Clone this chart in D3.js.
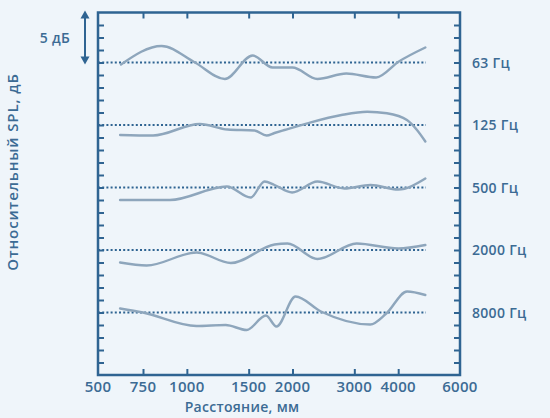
<!DOCTYPE html>
<html>
<head>
<meta charset="utf-8">
<script src="https://cdn.jsdelivr.net/npm/d3@7"></script>
<style>
  html, body { margin: 0; padding: 0; background: #eff5fa; }
  svg { display: block; }
  text { font-family: "Open Sans", sans-serif; font-weight: 600; fill: #3c6b94; }
</style>
</head>
<body>
<div id="chart"></div>
<script>
// distance tick labels (mm)
const xLabels = [500, 750, 1000, 1500, 2000, 3000, 4000, 6000];
const xTicks = [750, 1000, 1500, 2000, 3000, 4000];

// frequency bands and their baseline offset (dB)
const bands = ["63 Гц", "125 Гц", "500 Гц", "2000 Гц", "8000 Гц"];
const baselines = [0, -6.25, -12.5, -18.75, -25];

// each curve: [distance mm, dB relative to its own baseline]
const curve63 = [[615, -0.2], [847, 1.65], [1054, 0], [1283, -1.65], [1540, 0.7], [1754, -0.5], [1999, -0.5], [2354, -1.65], [2846, -1.1], [3461, -1.5], [4018, 0.1], [4780, 1.5]];
const curve125 = [[610, -1.0], [801, -1.05], [1088, 0.1], [1307, -0.45], [1559, -0.55], [1687, -1.05], [1777, -0.8], [1897, -0.5], [2205, 0.17], [2756, 1.0], [3264, 1.33], [3716, 1.17], [4237, 0.5], [4525, -0.5], [4780, -1.65]];
const curve500 = [[610, -1.25], [895, -1.25], [1300, 0.1], [1520, -1.0], [1665, 0.6], [1777, 0.25], [1995, -0.5], [2354, 0.6], [2810, -0.1], [3336, 0.25], [4000, -0.2], [4780, 0.9]];
const curve2000 = [[610, -1.25], [768, -1.55], [1066, -0.25], [1334, -1.3], [1777, 0.55], [1935, 0.65], [2354, -0.9], [3046, 0.65], [4000, 0.15], [4780, 0.5]];
const curve8000 = [[610, 0.4], [750, 0], [1065, -1.35], [1290, -1.25], [1480, -1.75], [1680, -0.3], [1800, -1.4], [2040, 1.6], [2410, 0.1], [3330, -1.2], [3700, -0.1], [4240, 2.1], [4780, 1.75]];
const curves = [curve63, curve125, curve500, curve2000, curve8000];

const width = 550, height = 418;
const frame = { left: 98, right: 460, top: 12.5, bottom: 375 };
const frameColor = "#2f6492";
const curveColor = "#8ea6bc";

const svg = d3.select("#chart").append("svg")
  .attr("width", width)
  .attr("height", height);

// log distance scale, the first segment is squeezed so 500 sits on the corner
const x = d3.scaleLog()
  .domain([500, 750, 6000])
  .range([frame.left, 143, frame.right]);

const y = d3.scaleLinear()
  .domain([-31.25, 5])
  .range([frame.bottom, frame.top]);

const yTicks = d3.range(-30, 5, 1.25);

// dotted baselines
svg.selectAll(".base")
  .data(baselines)
  .enter().append("line")
  .attr("x1", frame.left)
  .attr("x2", x(4800))
  .attr("y1", d => y(d))
  .attr("y2", d => y(d))
  .attr("stroke", frameColor)
  .attr("stroke-width", 2)
  .attr("stroke-dasharray", "2,2.2");

// response curves
const line = d3.line().curve(d3.curveMonotoneX);
svg.selectAll(".curve")
  .data(curves)
  .enter().append("path")
  .attr("fill", "none")
  .attr("stroke", curveColor)
  .attr("stroke-width", 2.4)
  .attr("stroke-linecap", "round")
  .attr("d", (c, i) => line(c.map(p => [x(p[0]), y(baselines[i] + p[1])])));

// inward tick marks on all four sides
function styleAxis(g) {
  g.select(".domain").remove();
  g.selectAll(".tick line").attr("stroke", frameColor).attr("stroke-width", 2);
  g.selectAll(".tick text").remove();
}
svg.append("g").attr("transform", `translate(0,${frame.top})`)
  .call(d3.axisBottom(x).tickValues(xTicks).tickSize(6)).call(styleAxis);
svg.append("g").attr("transform", `translate(0,${frame.bottom})`)
  .call(d3.axisTop(x).tickValues(xTicks).tickSize(6)).call(styleAxis);
svg.append("g").attr("transform", `translate(${frame.left},0)`)
  .call(d3.axisRight(y).tickValues(yTicks).tickSize(6)).call(styleAxis);
svg.append("g").attr("transform", `translate(${frame.right},0)`)
  .call(d3.axisLeft(y).tickValues(yTicks).tickSize(6)).call(styleAxis);

// frame
svg.append("rect")
  .attr("x", frame.left)
  .attr("y", frame.top)
  .attr("width", frame.right - frame.left)
  .attr("height", frame.bottom - frame.top)
  .attr("fill", "none")
  .attr("stroke", frameColor)
  .attr("stroke-width", 2.5);

// x tick labels
svg.selectAll(".xl")
  .data(xLabels)
  .enter().append("text")
  .attr("x", d => x(d))
  .attr("y", 392)
  .attr("text-anchor", "middle")
  .attr("font-size", 15)
  .attr("letter-spacing", 0.3)
  .text(d => d);

// band labels on the right
svg.selectAll(".band")
  .data(bands)
  .enter().append("text")
  .attr("x", 472)
  .attr("y", (d, i) => y(baselines[i]) + 5)
  .attr("font-size", 14)
  .attr("letter-spacing", 0.3)
  .text(d => d);

// axis titles
svg.append("text")
  .attr("x", 242)
  .attr("y", 412)
  .attr("text-anchor", "middle")
  .attr("font-size", 14)
  .attr("letter-spacing", 0.3)
  .text("Расстояние, мм");

svg.append("text")
  .attr("transform", "translate(18,172) rotate(-90)")
  .attr("text-anchor", "middle")
  .attr("font-size", 15)
  .attr("letter-spacing", 0.9)
  .text("Относительный SPL, дБ");

// 5 dB scale arrow
const ax = 85;
svg.append("line")
  .attr("x1", ax).attr("x2", ax)
  .attr("y1", y(5) + 2).attr("y2", y(0) - 2)
  .attr("stroke", frameColor)
  .attr("stroke-width", 2);
svg.append("path")
  .attr("fill", frameColor)
  .attr("d", `M${ax},${y(5) - 2} l-4.5,8 h9 Z M${ax},${y(0) + 2} l-4.5,-8 h9 Z`);
svg.append("text")
  .attr("x", 70)
  .attr("y", y(2.5) + 5)
  .attr("text-anchor", "end")
  .attr("font-size", 14)
  .attr("letter-spacing", 0.3)
  .text("5 дБ");
</script>
</body>
</html>
